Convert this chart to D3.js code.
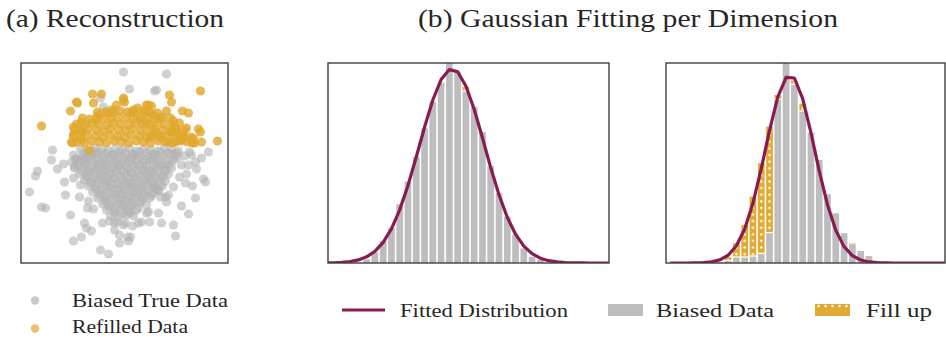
<!DOCTYPE html>
<html>
<head>
<meta charset="utf-8">
<script src="https://cdn.jsdelivr.net/npm/d3@7"></script>
<style>
  body { margin: 0; background: #fff; }
  svg { display: block; }
  text { font-family: "Liberation Serif", "DejaVu Serif", serif; fill: #262626; }
</style>
</head>
<body>
<svg id="fig" width="946" height="337"></svg>
<script>
// ---------------- data ----------------
// (a) 2-D reconstruction: biased true samples and refilled samples
const biasedPoints = [
  [-0.1,9.1],[4.2,8.9],[0.5,7.4],[3.0,7.2],[3.2,7.3],[-2.4,6.5],[-2.1,5.6],[-1.0,5.3],
  [-7.2,1.3],[-7.3,0.3],[-6.1,-0.1],[-6.7,-0.6],[-8.7,-0.8],[-8.9,-1.3],[-9.5,-2.9],[-8.3,-4.4],
  [-7.9,-4.5],[-6.0,-1.9],[-5.9,-3.2],[-5.1,-1.5],[-5.4,-5.2],[-4.4,-2.2],[-4.5,-3.4],[-4.0,-6.0],
  [-3.8,-6.5],[-3.3,-6.8],[-5.1,-7.8],[-4.3,-7.4],[-2.4,-8.7],[-1.6,-9.1],[-2.2,-6.0],[-1.5,-5.8],
  [-1.0,-6.0],[-1.0,-6.7],[-0.1,-6.2],[-0.5,-7.2],[0.4,-7.8],[0.3,-7.4],[0.8,-6.3],[1.7,-5.9],
  [2.2,-5.0],[3.4,-5.0],[2.5,-5.9],[3.7,-6.0],[4.9,-6.2],[5.1,-7.3],[5.7,-4.3],[6.4,-5.1],
  [4.2,-3.9],[4.1,-3.4],[2.9,-2.4],[3.4,-2.7],[4.9,-2.4],[5.5,-1.4],[6.2,-1.1],[6.8,-2.3],
  [7.9,-1.6],[6.1,-2.0],[7.2,-0.6],[6.4,-0.2],[7.7,0.5],[7.1,0.1],[6.7,0.8],[6.5,1.1],
  [8.4,1.1],[5.7,-0.2],[6.0,0.7],[5.2,1.0],[8.1,-1.9],[7.1,-3.5],[4.4,-3.2],[3.6,-3.4],
  [2.4,-4.9],[1.4,-6.0],[-0.5,-8.0],[0.6,-7.4],[-3.1,-4.6],[-3.7,-4.5],[-3.6,-3.8],[-5.0,-0.4],
  [-4.8,0.4],[-4.0,0.5],[-3.0,1.1],
  // dense core
  [-4.4,1.4],[-3.7,1.2],[-3.0,1.5],[-2.3,1.3],[-1.6,1.2],[-0.9,1.4],[-0.2,1.3],[0.5,1.5],
  [1.2,1.2],[1.9,1.4],[2.6,1.3],[3.3,1.2],[4.0,1.5],[4.7,1.3],[5.4,1.2],
  [-5.1,0.8],[-4.3,0.6],[-3.6,0.7],[-2.8,0.9],[-2.1,0.6],[-1.3,0.8],[-0.6,0.7],[0.2,0.6],
  [0.9,0.9],[1.6,0.7],[2.4,0.6],[3.1,0.8],[3.9,0.7],[4.6,0.9],[5.3,0.6],
  [-5.3,0.1],[-4.6,0.2],[-3.9,0.0],[-3.2,0.2],[-2.5,0.1],[-1.8,-0.1],[-1.0,0.2],[-0.3,0.0],
  [0.4,0.1],[1.1,0.3],[1.9,0.0],[2.6,0.2],[3.3,0.1],[4.1,-0.1],[4.8,0.2],
  [-5.0,-0.5],[-4.2,-0.4],[-3.5,-0.6],[-2.7,-0.4],[-2.0,-0.6],[-1.2,-0.5],[-0.5,-0.3],[0.3,-0.6],
  [1.0,-0.4],[1.8,-0.5],[2.5,-0.7],[3.2,-0.4],[4.0,-0.6],[4.7,-0.5],
  [-4.5,-1.1],[-3.8,-1.2],[-3.0,-1.0],[-2.3,-1.2],[-1.5,-1.1],[-0.8,-0.9],[0.0,-1.2],[0.7,-1.0],
  [1.4,-1.2],[2.2,-1.1],[2.9,-1.0],[3.7,-1.2],[4.4,-1.1],
  [-4.0,-1.7],[-3.3,-1.8],[-2.6,-1.6],[-1.8,-1.8],[-1.1,-1.6],[-0.3,-1.7],[0.4,-1.9],[1.1,-1.6],
  [1.9,-1.8],[2.6,-1.7],[3.4,-1.6],[4.1,-1.8],
  [-3.6,-2.3],[-2.9,-2.4],[-2.1,-2.2],[-1.4,-2.4],[-0.6,-2.3],[0.1,-2.2],[0.8,-2.4],[1.6,-2.3],
  [2.3,-2.2],[3.0,-2.4],[3.8,-2.3],
  [-3.2,-2.9],[-2.4,-3.0],[-1.7,-2.8],[-0.9,-3.0],[-0.2,-2.9],[0.6,-2.8],[1.3,-3.0],[2.0,-2.9],
  [2.8,-3.0],[3.4,-2.8],
  [-2.7,-3.5],[-1.9,-3.6],[-1.2,-3.4],[-0.4,-3.6],[0.3,-3.5],[1.0,-3.4],[1.8,-3.6],[2.5,-3.5],
  [-2.2,-4.1],[-1.5,-4.2],[-0.7,-4.0],[0.0,-4.2],[0.8,-4.1],[1.5,-4.0],[2.2,-4.2],
  [-1.8,-4.7],[-1.0,-4.8],[-0.3,-4.6],[0.4,-4.8],[1.2,-4.7],
  [-1.4,-5.3],[-0.6,-5.4],[0.2,-5.2],[0.9,-5.3],
  [-0.7,-5.9],[0.1,-6.0],
  [-4.1,1.0],[-3.3,0.9],[-2.6,1.1],[-1.9,1.0],[-1.2,0.9],[-0.5,1.1],[0.1,1.0],[0.8,0.9],
  [1.5,1.1],[2.2,1.0],[2.9,0.9],[3.6,1.1],[4.3,1.0],[5.0,0.9],
  [-4.9,0.4],[-4.1,0.3],[-3.4,0.5],[-2.7,0.4],[-2.0,0.3],[-1.4,0.5],[-0.7,0.4],[0.0,0.3],
  [0.7,0.5],[1.4,0.4],[2.1,0.3],[2.8,0.5],[3.5,0.4],[4.3,0.3],[5.0,0.4],
  [-4.7,-0.2],[-4.0,-0.1],[-3.3,-0.3],[-2.6,-0.2],[-1.9,-0.3],[-1.2,-0.1],[-0.6,-0.2],[0.1,-0.3],
  [0.8,-0.1],[1.5,-0.2],[2.2,-0.3],[2.9,-0.1],[3.6,-0.2],[4.4,-0.3],
  [-4.3,-0.8],[-3.6,-0.9],[-2.9,-0.7],[-2.2,-0.8],[-1.5,-0.9],[-0.8,-0.7],[-0.1,-0.8],[0.6,-0.9],
  [1.3,-0.7],[2.0,-0.8],[2.7,-0.9],[3.4,-0.7],[4.1,-0.8],
  [-3.8,-1.4],[-3.1,-1.5],[-2.4,-1.3],[-1.7,-1.4],[-1.0,-1.5],[-0.4,-1.3],[0.3,-1.4],[1.0,-1.5],
  [1.7,-1.3],[2.4,-1.4],[3.1,-1.5],[3.9,-1.4],
  [-3.4,-2.0],[-2.7,-2.1],[-2.0,-1.9],[-1.3,-2.0],[-0.6,-2.1],[0.1,-1.9],[0.8,-2.0],[1.5,-2.1],
  [2.2,-1.9],[2.9,-2.0],[3.6,-2.1],
  [-2.9,-2.6],[-2.2,-2.7],[-1.4,-2.5],[-0.7,-2.6],[0.0,-2.7],[0.7,-2.5],[1.5,-2.6],[2.3,-2.7],
  [3.1,-2.6],
  [-2.5,-3.2],[-1.8,-3.3],[-1.0,-3.1],[-0.3,-3.2],[0.5,-3.3],[1.2,-3.1],[2.0,-3.2],[2.7,-3.3],
  [-2.0,-3.8],[-1.3,-3.9],[-0.5,-3.7],[0.2,-3.8],[0.9,-3.9],[1.7,-3.8],
  [-1.6,-4.4],[-0.9,-4.5],[-0.1,-4.3],[0.6,-4.4],[1.4,-4.5],
  [-1.0,-5.0],[-0.2,-5.1],[0.6,-5.0]
];

const refilledPoints = [
  [-8.3,3.7],[-3.2,6.9],[-2.3,6.9],[-4.8,6.1],[-4.7,6.0],[-5.4,5.2],[-3.1,6.0],[-2.7,5.1],
  [-0.1,6.5],[0.0,6.1],[-0.8,5.8],[1.3,5.5],[0.7,5.1],[2.2,5.8],[2.7,5.7],[4.5,6.8],
  [4.7,6.1],[4.2,5.2],[7.6,7.2],[5.8,5.2],[6.4,5.0],[9.3,2.2],[7.4,3.4],[7.6,3.1],
  [6.2,3.5],[4.9,4.2],[5.1,3.3],[5.3,3.0],[5.7,2.3],[6.9,2.5],[7.7,2.1],[-3.5,1.3],
  [-5.3,2.1],[-5.1,2.8],[-5.1,3.6],[-4.3,4.1],[-4.5,3.3],[-2.5,4.8],[-2.8,4.3],[-4.2,3.1],
  [-4.3,2.3],[-5.2,2.0],[-1.7,5.0],[-1.3,5.3],[6.7,2.3],[6.8,2.0],[5.0,3.6],[4.6,3.1],
  [5.9,2.6],[3.6,4.5],[2.9,4.8],[2.4,5.8],[2.1,5.1],[-0.1,6.3],[0.9,5.3],[1.6,4.3],
  [2.2,4.0],[3.6,2.5],[4.4,2.1],[5.1,2.1],[3.1,3.1],[2.6,2.6],
  [-1.9,5.1],[-1.2,5.0],[-0.4,5.2],[0.3,5.1],[1.0,5.0],[1.8,5.2],[2.5,5.1],[3.3,5.0],
  [-4.2,4.5],[-3.5,4.4],[-2.8,4.6],[-2.0,4.5],[-1.3,4.4],[-0.6,4.6],[0.2,4.5],[0.9,4.4],
  [1.6,4.6],[2.4,4.5],[3.1,4.4],[3.8,4.6],[4.6,4.5],
  [-4.8,3.9],[-4.0,3.8],[-3.3,4.0],[-2.6,3.9],[-1.8,3.8],[-1.1,4.0],[-0.4,3.9],[0.4,3.8],
  [1.1,4.0],[1.8,3.9],[2.6,3.8],[3.3,4.0],[4.0,3.9],[4.8,3.8],[5.5,4.0],
  [-5.0,3.3],[-4.3,3.2],[-3.6,3.4],[-2.8,3.3],[-2.1,3.2],[-1.4,3.4],[-0.6,3.3],[0.1,3.2],
  [0.8,3.4],[1.6,3.3],[2.3,3.2],[3.0,3.4],[3.8,3.3],[4.5,3.2],[5.2,3.4],[6.0,3.3],
  [-5.1,2.7],[-4.4,2.6],[-3.7,2.8],[-2.9,2.7],[-2.2,2.6],[-1.5,2.8],[-0.7,2.7],[0.0,2.6],
  [0.7,2.8],[1.5,2.7],[2.2,2.6],[2.9,2.8],[3.7,2.7],[4.4,2.6],[5.1,2.8],[5.9,2.7],[6.6,2.6],
  [-4.8,2.1],[-4.0,2.0],[-3.3,2.2],[-2.5,2.1],[-1.8,2.0],[-1.0,2.2],[-0.3,2.1],[0.4,2.0],
  [1.2,2.2],[1.9,2.1],[2.6,2.0],[3.4,2.2],[4.1,2.1],[4.8,2.0],[5.6,2.2],[6.3,2.1],[7.0,2.0]
];

// (b) per-dimension histograms: bin layout, counts, fill-up counts, fitted Gaussian
const dim1BinStart = -2.754;
const dim1BinWidth = 0.2545;
const dim1Counts = [1.8, 5.2, 10.7, 17.3, 29, 40.7, 53.2, 67.3, 80.7, 90.2, 100,
                    95.7, 85.7, 78.2, 65.2, 48.2, 34.9, 23.2, 14, 7.3, 3.2, 1.5];
const dim1Fill   = [0, 0, 0.3, 0.4, 0.3, 0, 0, 0, 0, 0, 0,
                    0, 2.3, 0, 0.3, 0.3, 0, 0, 0, 0, 0, 0];
const dim1FitFirstBin = -5;   // fitted curve sampled at bin centres from this bin index
const dim1Fit = [0.05, 0.13, 0.31, 0.71, 1.53, 3.08, 5.82, 10.3, 17.1, 26.6, 38.8,
                 53.0, 67.9, 81.5, 91.7, 96.7, 95.6, 88.5, 76.9, 62.6, 47.7, 34.1,
                 22.9, 14.4, 8.46, 4.67, 2.41, 1.17, 0.53, 0.23, 0.09, 0.03, 0, 0, 0, 0];

const dim2BinStart = -2.694;
const dim2BinWidth = 0.338;
const dim2Counts = [1, 2.7, 2.7, 3.2, 4.5, 14.9, 81.5, 104, 89, 75.7,
                    65.2, 51.5, 34.4, 24.9, 14.9, 9.4, 6, 3.2, 1];
const dim2Fill   = [1.9, 7.2, 16.3, 30, 45.4, 53.3, 2.5, 0, 2.2, 4,
                    0, 0, 0, 0, 0, 0.3, 0, 0.3, 0];
const dim2FitFirstBin = -7;
const dim2Fit = [0, 0, 0.01, 0.05, 0.18, 0.56, 1.56, 3.88, 8.6, 17.0, 30.0, 47.2,
                 66.3, 83.1, 92.8, 92.5, 82.2, 65.2, 46.1, 29.1, 16.4, 8.2, 3.7,
                 1.5, 0.53, 0.17, 0.05, 0, 0, 0, 0, 0, 0, 0, 0];

const titles = ["(a) Reconstruction", "(b) Gaussian Fitting per Dimension"];
const scatterLegend = ["Biased True Data", "Refilled Data"];
const histLegend = ["Fitted Distribution", "Biased Data", "Fill up"];

// ---------------- styles ----------------
const C = {
  grayDot: "#b2b2b2", goldDot: "#e0a82c",
  bar: "#bdbdbd", fill: "#e2aa32", fit: "#881b51", frame: "#3f3f3f"
};

const svg = d3.select("#fig");
const defs = svg.append("defs");

function dotPattern(id, x0, w, h) {
  const p = defs.append("pattern").attr("id", id)
    .attr("patternUnits", "userSpaceOnUse")
    .attr("x", x0).attr("y", 0).attr("width", w).attr("height", h);
  p.append("rect").attr("width", w).attr("height", h).attr("fill", C.fill);
  p.append("circle").attr("cx", w / 2).attr("cy", h / 2).attr("r", 1.25).attr("fill", "#fff");
}

// ---------------- titles ----------------
svg.append("text").attr("x", 6).attr("y", 27).attr("font-size", 25)
  .attr("textLength", 218).attr("lengthAdjust", "spacingAndGlyphs").text(titles[0]);
svg.append("text").attr("x", 418).attr("y", 27).attr("font-size", 25)
  .attr("textLength", 420).attr("lengthAdjust", "spacingAndGlyphs").text(titles[1]);

// ---------------- (a) scatter ----------------
{
  const x = d3.scaleLinear().domain([-10.35, 10.35]).range([21, 228]);
  const y = d3.scaleLinear().domain([-10, 10]).range([263, 63]);
  defs.append("clipPath").attr("id", "clipA").append("rect")
    .attr("x", 21).attr("y", 63).attr("width", 207).attr("height", 200);
  const g = svg.append("g").attr("clip-path", "url(#clipA)");
  g.selectAll("circle.b").data(biasedPoints).join("circle").attr("class", "b")
    .attr("cx", d => x(d[0])).attr("cy", d => y(d[1])).attr("r", 4.6)
    .attr("fill", C.grayDot).attr("fill-opacity", 0.6);
  g.selectAll("circle.r").data(refilledPoints).join("circle").attr("class", "r")
    .attr("cx", d => x(d[0])).attr("cy", d => y(d[1])).attr("r", 4.6)
    .attr("fill", C.goldDot).attr("fill-opacity", 0.8);
  svg.append("rect").attr("x", 21).attr("y", 63).attr("width", 207).attr("height", 200)
    .attr("fill", "none").attr("stroke", C.frame).attr("stroke-width", 1.4);

  // legend
  const items = [[scatterLegend[0], C.grayDot, 300.5, 307, 156], [scatterLegend[1], C.goldDot, 328.5, 333, 116]];
  items.forEach(([t, c, cy, by, tl]) => {
    svg.append("circle").attr("cx", 35).attr("cy", cy).attr("r", 4.2)
      .attr("fill", c).attr("fill-opacity", 0.7);
    svg.append("text").attr("x", 72).attr("y", by).attr("font-size", 18)
      .attr("textLength", tl).attr("lengthAdjust", "spacingAndGlyphs").text(t);
  });
}

// ---------------- (b) histograms ----------------
function histPanel(id, left, right, domain, binStart, binWidth, counts, fill, fitFirst, fit) {
  const x = d3.scaleLinear().domain(domain).range([left, right]);
  const y = d3.scaleLinear().domain([0, 100]).range([263, 63]);
  defs.append("clipPath").attr("id", "clip" + id).append("rect")
    .attr("x", left).attr("y", 63).attr("width", right - left).attr("height", 200);
  const pitch = x(binStart + binWidth) - x(binStart);
  dotPattern("dots" + id, x(binStart), pitch, 6.6);

  const g = svg.append("g").attr("clip-path", "url(#clip" + id + ")");
  const bins = counts.map((c, i) => ({
    x0: binStart + i * binWidth, x1: binStart + (i + 1) * binWidth, c, f: fill[i]
  }));
  g.selectAll("rect.bar").data(bins).join("rect").attr("class", "bar")
    .attr("x", d => x(d.x0) + 0.8)
    .attr("width", d => x(d.x1) - x(d.x0) - 1.6)
    .attr("y", d => y(d.c))
    .attr("height", d => y(0) - y(d.c))
    .attr("fill", C.bar);
  g.selectAll("rect.fill").data(bins.filter(d => d.f > 0)).join("rect").attr("class", "fill")
    .attr("x", d => x(d.x0) + 0.8)
    .attr("width", d => x(d.x1) - x(d.x0) - 1.6)
    .attr("y", d => y(d.c + d.f))
    .attr("height", d => Math.max(0.6, y(d.c) - y(d.c + d.f) - 1.2))
    .attr("fill", "url(#dots" + id + ")");

  const curve = fit.map((v, i) => [binStart + (fitFirst + i + 0.5) * binWidth, v]);
  g.append("path").datum(curve)
    .attr("d", d3.line().x(d => x(d[0])).y(d => y(d[1])))
    .attr("fill", "none").attr("stroke", C.fit).attr("stroke-width", 3.2)
    .attr("stroke-linejoin", "round");

  svg.append("rect").attr("x", left).attr("y", 63).attr("width", right - left).attr("height", 200)
    .attr("fill", "none").attr("stroke", C.frame).attr("stroke-width", 1.4);
}

histPanel("1", 328, 609, [-3.815, 4.83], dim1BinStart, dim1BinWidth, dim1Counts, dim1Fill, dim1FitFirstBin, dim1Fit);
histPanel("2", 666, 945, [-5.061, 6.327], dim2BinStart, dim2BinWidth, dim2Counts, dim2Fill, dim2FitFirstBin, dim2Fit);

// legend for (b)
{
  const ly = 310;
  svg.append("line").attr("x1", 342).attr("x2", 385).attr("y1", ly).attr("y2", ly)
    .attr("stroke", C.fit).attr("stroke-width", 3.2);
  svg.append("text").attr("x", 400).attr("y", ly + 6.5).attr("font-size", 18.5)
    .attr("textLength", 168).attr("lengthAdjust", "spacingAndGlyphs").text(histLegend[0]);
  svg.append("rect").attr("x", 608).attr("y", ly - 6).attr("width", 35).attr("height", 12)
    .attr("fill", C.bar);
  svg.append("text").attr("x", 656).attr("y", ly + 6.5).attr("font-size", 18.5)
    .attr("textLength", 118).attr("lengthAdjust", "spacingAndGlyphs").text(histLegend[1]);
  dotPattern("dotsLeg", 815, 7, 12);
  svg.append("rect").attr("x", 815).attr("y", ly - 6).attr("width", 35).attr("height", 12)
    .attr("fill", "url(#dotsLeg)");
  svg.append("text").attr("x", 866).attr("y", ly + 6.5).attr("font-size", 18.5)
    .attr("textLength", 66).attr("lengthAdjust", "spacingAndGlyphs").text(histLegend[2]);
}
</script>
</body>
</html>
